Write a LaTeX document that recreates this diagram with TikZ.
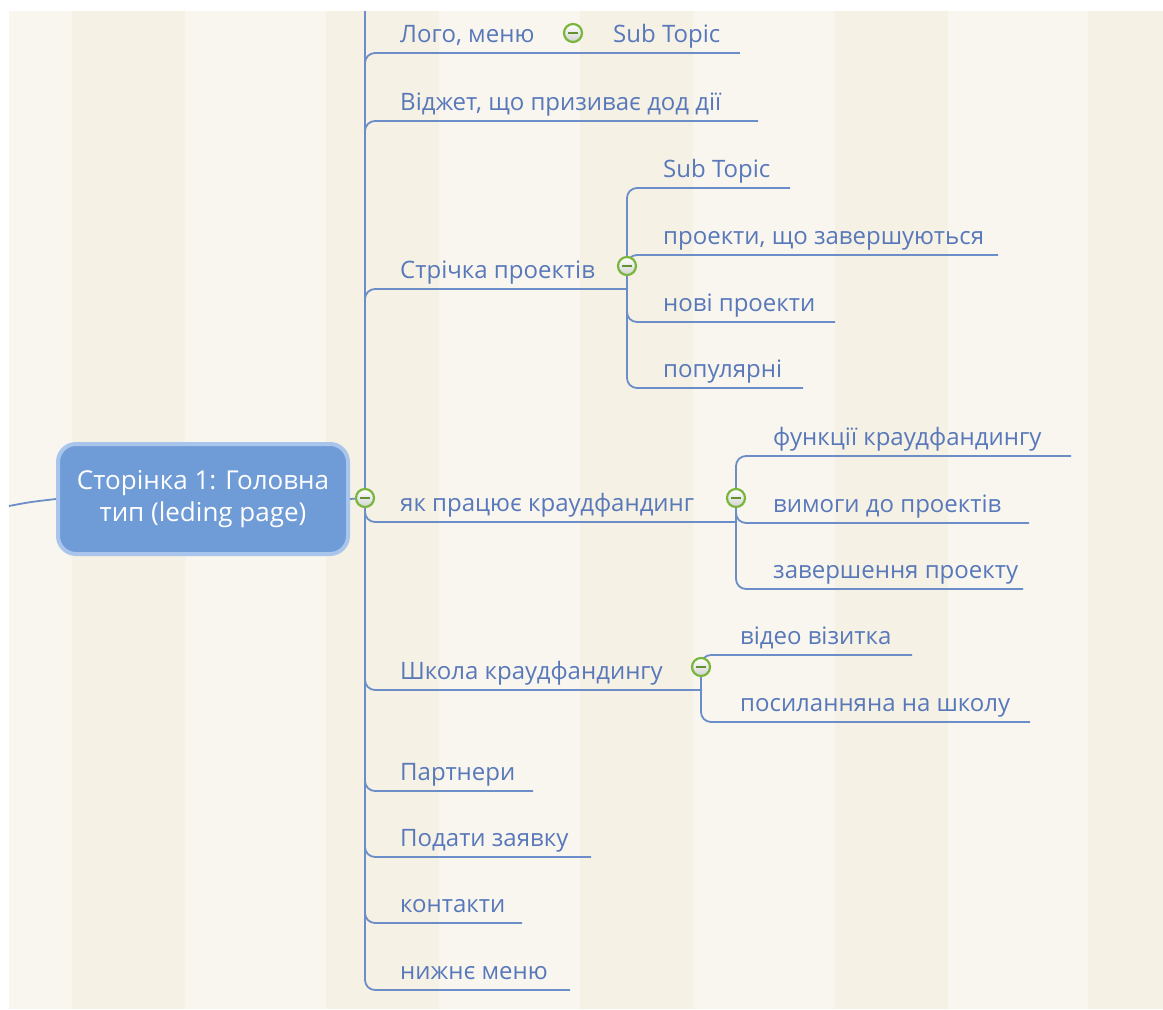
\documentclass[tikz,border=0pt]{standalone}
\usepackage{fontspec}
\setmainfont{Open Sans}
\usetikzlibrary{positioning}
\definecolor{paperlight}{RGB}{249,246,239}
\definecolor{paperdark}{RGB}{245,241,229}
\definecolor{linkblue}{RGB}{108,142,200}
\definecolor{textblue}{RGB}{88,120,186}
\definecolor{rootfill}{RGB}{111,156,214}
\definecolor{rootrim}{RGB}{170,197,236}
\definecolor{knobgreen}{RGB}{122,181,60}
\tikzstyle{root} = [rectangle, rounded corners=18pt, minimum width=290pt, minimum height=110pt, fill=rootfill, draw=rootrim, line width=4pt, text=white, align=center, font=\fontsize{26}{32}\selectfont]
\tikzstyle{topic} = [anchor=base west, inner sep=0pt, text=textblue, font=\fontsize{24}{28}\selectfont]
\tikzstyle{link} = [linkblue, line width=1.8pt, rounded corners=10pt]
\tikzstyle{knob} = [circle, minimum size=18pt, inner sep=0pt, draw=knobgreen, line width=2.2pt, top color=white, bottom color=gray!35,
  path picture={\draw[knobgreen!80!black, line width=1.8pt] ([xshift=-5pt]path picture bounding box.center) -- ([xshift=5pt]path picture bounding box.center);}]

\begin{document}
\begin{tikzpicture}[x=1pt, y=-1pt]
        \useasboundingbox (0,0) rectangle (1163,1010);
        \fill[white] (0,0) rectangle (1163,1010);

        % Paper with stripes
        \begin{scope}
        \clip (9,11) rectangle (1163,1009);
        \fill[paperlight] (9,11) rectangle (1163,1009);
        \foreach \sx in {72,326,580,835,1088}
            \fill[paperdark] (\sx,11) rectangle (\sx+113,1009);
        \end{scope}

        % Central topic
        \node (root) [root] at (203,499) {Сторінка 1: Головна\\тип (leding page)};
        \coordinate (edge) at (9,506);
        \draw [link] (edge) .. controls (30,502) .. (root.west);

        % Hubs
        \coordinate (hubroot) at (365,498);
        \coordinate (hublogo) at (573,33);
        \coordinate (hubfeed) at (627,266);
        \coordinate (hubhow) at (736,498);
        \coordinate (hubschool) at (701,667);
        \coordinate (trunktop) at (365,11);

        % Main topics
        \node (logo) [topic] at (400,42) {Лого, меню};
        \node (logosub) [topic] at (613,42) {Sub Topic};
        \node (widget) [topic] at (400,110) {Віджет, що призиває дод дії};
        \node (feed) [topic] at (400,278) {Стрічка проектів};
        \node (how) [topic] at (400,511) {як працює краудфандинг};
        \node (school) [topic] at (400,679) {Школа краудфандингу};
        \node (partners) [topic] at (400,780) {Партнери};
        \node (apply) [topic] at (400,846) {Подати заявку};
        \node (contacts) [topic] at (400,912) {контакти};
        \node (footer) [topic] at (400,979) {нижнє меню};

        % Sub topics
        \node (feed1) [topic] at (663,177) {Sub Topic};
        \node (feed2) [topic] at (663,244) {проекти, що завершуються};
        \node (feed3) [topic] at (663,311) {нові проекти};
        \node (feed4) [topic] at (663,377) {популярні};
        \node (how1) [topic] at (773,445) {функції краудфандингу};
        \node (how2) [topic] at (773,512) {вимоги до проектів};
        \node (how3) [topic] at (773,578) {завершення проекту};
        \node (school1) [topic] at (740,644) {відео візитка};
        \node (school2) [topic] at (740,711) {посиланняна на школу};

        % Underline ends
        \coordinate (logo-ul) at (580,53);
        \coordinate (logosub-ul) at (740,53);
        \coordinate (widget-ul) at (758,121);
        \coordinate (feed-ul) at (627,289);
        \coordinate (how-ul) at (737,522);
        \coordinate (school-ul) at (702,690);
        \coordinate (partners-ul) at (533,791);
        \coordinate (apply-ul) at (591,857);
        \coordinate (contacts-ul) at (522,923);
        \coordinate (footer-ul) at (570,990);
        \coordinate (feed1-ul) at (790,188);
        \coordinate (feed2-ul) at (998,255);
        \coordinate (feed3-ul) at (835,322);
        \coordinate (feed4-ul) at (803,388);
        \coordinate (how1-ul) at (1071,456);
        \coordinate (how2-ul) at (1029,523);
        \coordinate (how3-ul) at (1023,589);
        \coordinate (school1-ul) at (912,655);
        \coordinate (school2-ul) at (1030,722);

        % Connectors
        \draw [link] (root.east) -- (hubroot);
        \draw [link] (hubroot) -- (trunktop);
        \foreach \t in {logo,widget,feed,how,school,partners,apply,contacts,footer}
            \draw [link] (hubroot) |- (\t-ul);
        \draw [link] (logo-ul) -- (logosub-ul);
        \foreach \t in {feed1,feed2,feed3,feed4}
            \draw [link] (hubfeed) |- (\t-ul);
        \foreach \t in {how1,how2,how3}
            \draw [link] (hubhow) |- (\t-ul);
        \foreach \t in {school1,school2}
            \draw [link] (hubschool) |- (\t-ul);

        % Collapse knobs
        \node (knobroot) [knob] at (hubroot) {};
        \node (knoblogo) [knob] at (hublogo) {};
        \node (knobfeed) [knob] at (hubfeed) {};
        \node (knobhow) [knob] at (hubhow) {};
        \node (knobschool) [knob] at (hubschool) {};
    \end{tikzpicture}
\end{document}
